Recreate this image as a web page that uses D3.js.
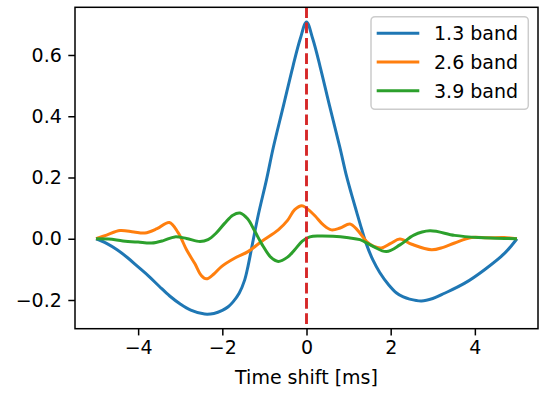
<!DOCTYPE html>
<html>
<head>
<meta charset="utf-8">
<script src="https://cdn.jsdelivr.net/npm/d3@7"></script>
<style>
  html, body { margin: 0; padding: 0; background: #fff; }
  svg { display: block; font-family: "DejaVu Sans", sans-serif; }
</style>
</head>
<body>
<svg id="chart" width="540" height="394"></svg>
<script>
// Cross-correlation vs. time shift for three frequency bands
const timeShift13 = [-5.0,-4.75,-4.5,-4.25,-4.0,-3.75,-3.5,-3.25,-3.0,-2.75,-2.42,-2.2,-2.0,-1.86,-1.75,-1.6,-1.47,-1.39,-1.31,-1.15,-0.95,-0.79,-0.55,-0.32,-0.15,0.0,0.15,0.32,0.55,0.79,0.95,1.07,1.19,1.31,1.43,1.58,1.74,1.95,2.14,2.3,2.45,2.73,3.0,3.28,3.76,4.23,4.71,5.0];
const band13 = [0,-0.015,-0.036,-0.062,-0.092,-0.122,-0.155,-0.187,-0.213,-0.233,-0.246,-0.244,-0.234,-0.222,-0.207,-0.178,-0.135,-0.09,-0.035,0.075,0.193,0.297,0.433,0.564,0.652,0.708,0.652,0.564,0.433,0.30,0.205,0.145,0.088,0.032,-0.02,-0.07,-0.11,-0.15,-0.177,-0.19,-0.197,-0.203,-0.195,-0.178,-0.145,-0.101,-0.047,0];

const timeShift26 = [-5.0,-4.75,-4.43,-4.1,-3.84,-3.55,-3.26,-3.05,-2.85,-2.65,-2.5,-2.38,-2.2,-2.02,-1.7,-1.39,-1.07,-0.67,-0.45,-0.28,-0.11,0.0,0.2,0.4,0.59,0.8,1.03,1.2,1.43,1.6,1.78,2.0,2.22,2.5,2.97,3.25,3.52,3.92,4.3,4.7,5.0];
const band26 = [0,0.012,0.027,0.022,0.019,0.033,0.053,0.02,-0.036,-0.082,-0.12,-0.131,-0.115,-0.091,-0.063,-0.042,-0.009,0.029,0.06,0.095,0.108,0.1,0.075,0.045,0.029,0.035,0.048,0.03,-0.009,-0.025,-0.03,-0.015,-0.001,-0.018,-0.036,-0.028,-0.014,0.004,0.003,0.004,0];

const timeShift39 = [-5.0,-4.7,-4.36,-4.0,-3.68,-3.4,-3.13,-2.85,-2.53,-2.34,-2.15,-1.94,-1.75,-1.58,-1.4,-1.23,-1.05,-0.85,-0.67,-0.45,-0.28,-0.1,0.08,0.3,0.63,1.0,1.27,1.58,1.9,2.22,2.55,2.93,3.52,4.08,4.5,5.0];
const band39 = [0,-0.001,-0.007,-0.011,-0.014,-0.006,0.006,0.001,-0.009,-0.003,0.018,0.051,0.077,0.084,0.065,0.025,-0.02,-0.06,-0.074,-0.06,-0.036,-0.008,0.006,0.009,0.008,0.003,-0.003,-0.025,-0.042,-0.02,0.012,0.026,0.011,0.004,0.002,0];

const seriesNames = ["1.3 band", "2.6 band", "3.9 band"];
const seriesColors = ["#1f77b4", "#ff7f0e", "#2ca02c"];
const xTicks = [-4, -2, 0, 2, 4];
const yTicks = [-0.2, 0.0, 0.2, 0.4, 0.6];
const xLabel = "Time shift [ms]";
const markerShift = 0;

const series = [
  { name: seriesNames[0], color: seriesColors[0], t: timeShift13, v: band13 },
  { name: seriesNames[1], color: seriesColors[1], t: timeShift26, v: band26 },
  { name: seriesNames[2], color: seriesColors[2], t: timeShift39, v: band39 }
];

const svg = d3.select("#chart");
const plot = { left: 75, right: 538, top: 7.3, bottom: 328.7 };
const fs = 19;

// data limits with 5% margins
const allV = band13.concat(band26, band39);
const vMin = d3.min(allV), vMax = d3.max(allV);
const vPad = (vMax - vMin) * 0.05;
const x = d3.scaleLinear().domain([-5.5, 5.5]).range([plot.left, plot.right]);
const y = d3.scaleLinear().domain([vMin - vPad, vMax + vPad]).range([plot.bottom, plot.top]);

svg.append("clipPath").attr("id", "clip")
  .append("rect").attr("x", plot.left).attr("y", plot.top)
  .attr("width", plot.right - plot.left).attr("height", plot.bottom - plot.top);

const line = d3.line()
  .x(d => x(d[0])).y(d => y(d[1]))
  .curve(d3.curveCatmullRom.alpha(0.5));

const g = svg.append("g").attr("clip-path", "url(#clip)");
series.forEach(s => {
  g.append("path")
    .datum(s.t.map((t, i) => [t, s.v[i]]))
    .attr("d", line)
    .attr("fill", "none")
    .attr("stroke", s.color)
    .attr("stroke-width", 3)
    .attr("stroke-linejoin", "round")
    .attr("stroke-linecap", "butt");
});

// zero-shift marker
g.append("line")
  .attr("x1", x(markerShift)).attr("x2", x(markerShift))
  .attr("y1", plot.top).attr("y2", plot.bottom)
  .attr("stroke", "#d62728")
  .attr("stroke-width", 2.9)
  .attr("stroke-dasharray", "10.7,4.6");

// axes
const xAxis = d3.axisBottom(x).tickValues(xTicks).tickSizeInner(6.7).tickSizeOuter(0).tickPadding(5)
  .tickFormat(d => d < 0 ? "\u2212" + Math.abs(d) : String(d));
const yAxis = d3.axisLeft(y).tickValues(yTicks).tickSizeInner(6.7).tickSizeOuter(0).tickPadding(6.5)
  .tickFormat(d => (d < 0 ? "\u2212" : "") + Math.abs(d).toFixed(1));

const gx = svg.append("g").attr("transform", `translate(0,${plot.bottom})`).call(xAxis);
const gy = svg.append("g").attr("transform", `translate(${plot.left},0)`).call(yAxis);
[gx, gy].forEach(a => {
  a.select(".domain").remove();
  a.selectAll(".tick line").attr("stroke", "#000").attr("stroke-width", 1.5);
  a.selectAll(".tick text").attr("fill", "#000").attr("font-size", fs)
    .attr("font-family", "DejaVu Sans, sans-serif");
});

// frame
svg.append("rect")
  .attr("x", plot.left).attr("y", plot.top)
  .attr("width", plot.right - plot.left).attr("height", plot.bottom - plot.top)
  .attr("fill", "none").attr("stroke", "#000").attr("stroke-width", 1.5);

svg.append("text")
  .attr("x", (plot.left + plot.right) / 2).attr("y", 384)
  .attr("text-anchor", "middle").attr("font-size", fs).attr("fill", "#000")
  .text(xLabel);

// legend
const lg = svg.append("g");
lg.append("rect")
  .attr("x", 371).attr("y", 16.7).attr("width", 157.3).attr("height", 92.6)
  .attr("rx", 4).attr("fill", "#fff").attr("fill-opacity", 0.8)
  .attr("stroke", "#cccccc").attr("stroke-width", 1.5);
series.forEach((s, i) => {
  const cy = 33.3 + i * 28.7;
  lg.append("line").attr("x1", 376.7).attr("x2", 419.3).attr("y1", cy).attr("y2", cy)
    .attr("stroke", s.color).attr("stroke-width", 3);
  lg.append("text").attr("x", 434).attr("y", cy).attr("dy", "0.36em")
    .attr("font-size", fs).attr("fill", "#000").text(s.name);
});
</script>
</body>
</html>
